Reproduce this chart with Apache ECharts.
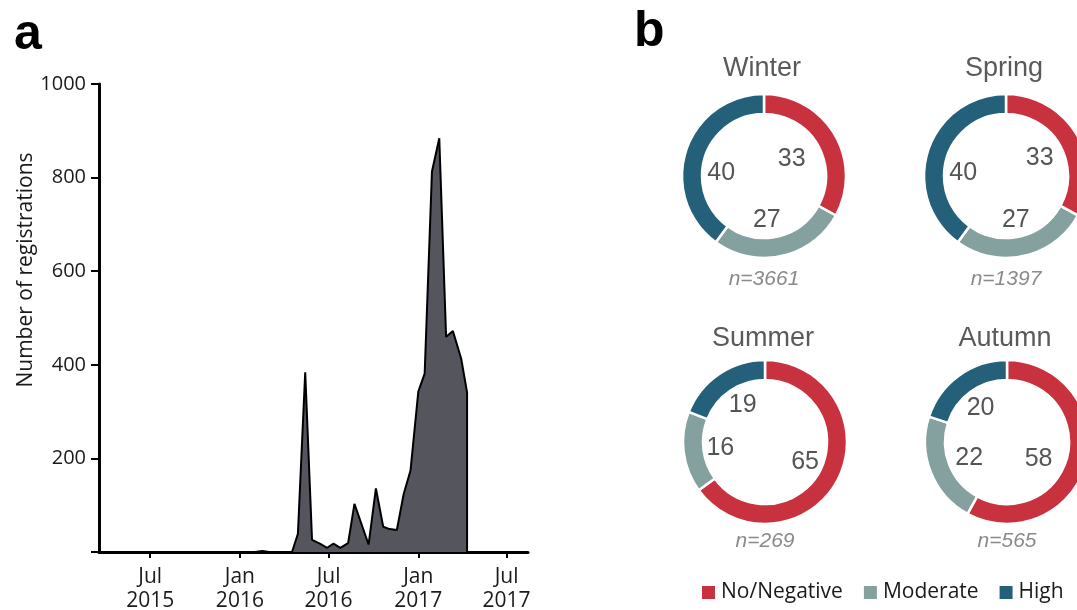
<!DOCTYPE html>
<html><head><meta charset="utf-8">
<script src="https://cdn.jsdelivr.net/npm/echarts@6/dist/echarts.min.js"></script>
<style>html,body{margin:0;padding:0;background:#fff}#c{width:1077px;height:610px}</style>
</head><body><div id="c"></div>
<script>
// ---- Panel a data: registrations over time ----
const regDates = ['2015-03-18','2016-02-01','2016-02-16','2016-03-01','2016-04-17','2016-04-29','2016-05-14','2016-05-28','2016-06-13','2016-06-28','2016-07-11','2016-07-25','2016-08-10','2016-08-23','2016-09-21','2016-10-06','2016-10-21','2016-11-03','2016-11-18','2016-12-02','2016-12-16','2017-01-01','2017-01-14','2017-01-29','2017-02-13','2017-02-27','2017-03-13','2017-03-30','2017-04-11','2017-04-11'];
const regValues = [0,0,2,0,0,39,384,26,18,9,18,9,19,103,16,136,54,49,47,124,174,343,381,813,884,460,472,413,341,0];
const xTickDates = ['2015-07-01','2016-01-01','2016-07-01','2017-01-01','2017-07-01'];
const monthNames = ['Jan','Feb','Mar','Apr','May','Jun','Jul','Aug','Sep','Oct','Nov','Dec'];
const yAxisTitle = 'Number of registrations';

// ---- Panel b data: seasonal donuts ----
const seasons = ['Winter','Spring','Summer','Autumn'];
const seasonN = [3661,1397,269,565];
const categories = ['No/Negative','Moderate','High'];
const noNegative = [33,33,65,58];
const moderate = [27,27,16,22];
const high = [40,40,19,20];

const catColors = ['#c8323f','#84a09f','#24607a'];
function ts(s){const p=s.split('-').map(Number);return new Date(p[0],p[1]-1,p[2]).getTime();}

const seriesData = regDates.map((d,i)=>[ts(d),regValues[i]]);
const pieCenters = [[764,176],[1006,176],[765,442],[1007,442]];
// per-label nudges: [horizontal shift left (px), vertical shift down (px)]
const labelNudge = [
  [[11,6],[7,0],[0,11]],
  [[5,5],[0,0],[0,11]],
  [[0,0],[0,0],[-3,0]],
  [[12,6],[-4,0],[0,3]]
];

const series = [{
  type:'line', data:seriesData, symbol:'none', silent:true,
  lineStyle:{color:'#000',width:2}, areaStyle:{color:'#55565d',opacity:1}, z:1
}];
seasons.forEach((s,i)=>{
  const d = categories.map((c,k)=>({name:c,value:[noNegative,moderate,high][k][i],itemStyle:{color:catColors[k]}}));
  series.push({type:'pie', center:pieCenters[i], radius:[62,82], startAngle:90, clockwise:true, silent:true,
    data:d, label:{show:false}, labelLine:{show:false},
    itemStyle:{borderColor:'#fff',borderWidth:2.5}});
  series.push({type:'pie', center:pieCenters[i], radius:[20,64], startAngle:90, clockwise:true, silent:true,
    data:d.map((x,k)=>{
      const n = labelNudge[i][k];
      const lbl = {padding:[0, Math.max(0,2*n[0]), 0, Math.max(0,-2*n[0])]};
      if(n[1]>0){ lbl.formatter = '\n{c}'; lbl.lineHeight = 2*n[1]; }
      return {name:x.name,value:x.value,itemStyle:{color:'rgba(0,0,0,0)'},label:lbl};
    }),
    label:{show:true,position:'inside',formatter:'{c}',color:'#555',fontSize:25,fontFamily:'Liberation Sans'},
    labelLine:{show:false}, legendHoverLink:false});
});

const graphics = [
  {type:'text',style:{text:'a',x:14,y:35,font:'bold 50px "Liberation Sans"',fill:'#000',align:'left',verticalAlign:'middle'}},
  {type:'text',style:{text:'b',x:634,y:32,font:'bold 50px "Liberation Sans"',fill:'#000',align:'left',verticalAlign:'middle'}},
  {type:'text',rotation:Math.PI/2,x:26,y:270,style:{text:yAxisTitle,x:0,y:0,font:'21px "Open Sans"',fill:'#1a1a1a',align:'center',verticalAlign:'middle'}}
];
const titleY = [69,69,339,339];
const nY = [279,279,541,541];
seasons.forEach((s,i)=>{
  graphics.push({type:'text',style:{text:s,x:pieCenters[i][0]-2,y:titleY[i],font:'27px "Liberation Sans"',fill:'#5a5a5a',align:'center',verticalAlign:'middle'}});
  graphics.push({type:'text',style:{text:'n='+seasonN[i],x:pieCenters[i][0],y:nY[i],font:'italic 21px "Liberation Sans"',fill:'#8a8a8a',align:'center',verticalAlign:'middle'}});
});

const option = {
  animation:false,
  backgroundColor:'#fff',
  grid:{left:99,right:549,top:84,bottom:58,containLabel:false,outerBoundsMode:'none'},
  xAxis:{type:'value', min:ts('2015-03-18'), max:ts('2017-08-14'),
    axisLine:{show:true,onZero:false,lineStyle:{color:'#000',width:3}},
    axisTick:{show:true,length:6,lineStyle:{color:'#000',width:2},customValues:xTickDates.map(ts)},
    axisLabel:{customValues:xTickDates.map(ts),margin:13,fontSize:21,lineHeight:24,color:'#1a1a1a',fontFamily:'Open Sans',
      formatter:function(v){const d=new Date(v);return monthNames[d.getMonth()]+'\n'+d.getFullYear();}},
    splitLine:{show:false}},
  yAxis:{type:'value',min:0,max:1000,interval:200,
    axisLine:{show:true,lineStyle:{color:'#000',width:3}},
    axisTick:{show:true,length:8,lineStyle:{color:'#000',width:2}},
    axisLabel:{margin:13,fontSize:20,color:'#1a1a1a',fontFamily:'Open Sans',formatter:v=>v===0?'':String(v)},
    splitLine:{show:false}},
  legend:{left:695,top:577,itemWidth:15,itemHeight:15,itemGap:19,icon:'rect',selectedMode:false,
    textStyle:{fontSize:21,color:'#1a1a1a',fontFamily:'Open Sans'},
    data:categories.map((c,k)=>({name:c,itemStyle:{color:catColors[k]}}))},
  graphic:graphics,
  series:series
};
echarts.init(document.getElementById('c'),null,{renderer:'canvas'}).setOption(option);
</script></body></html>
